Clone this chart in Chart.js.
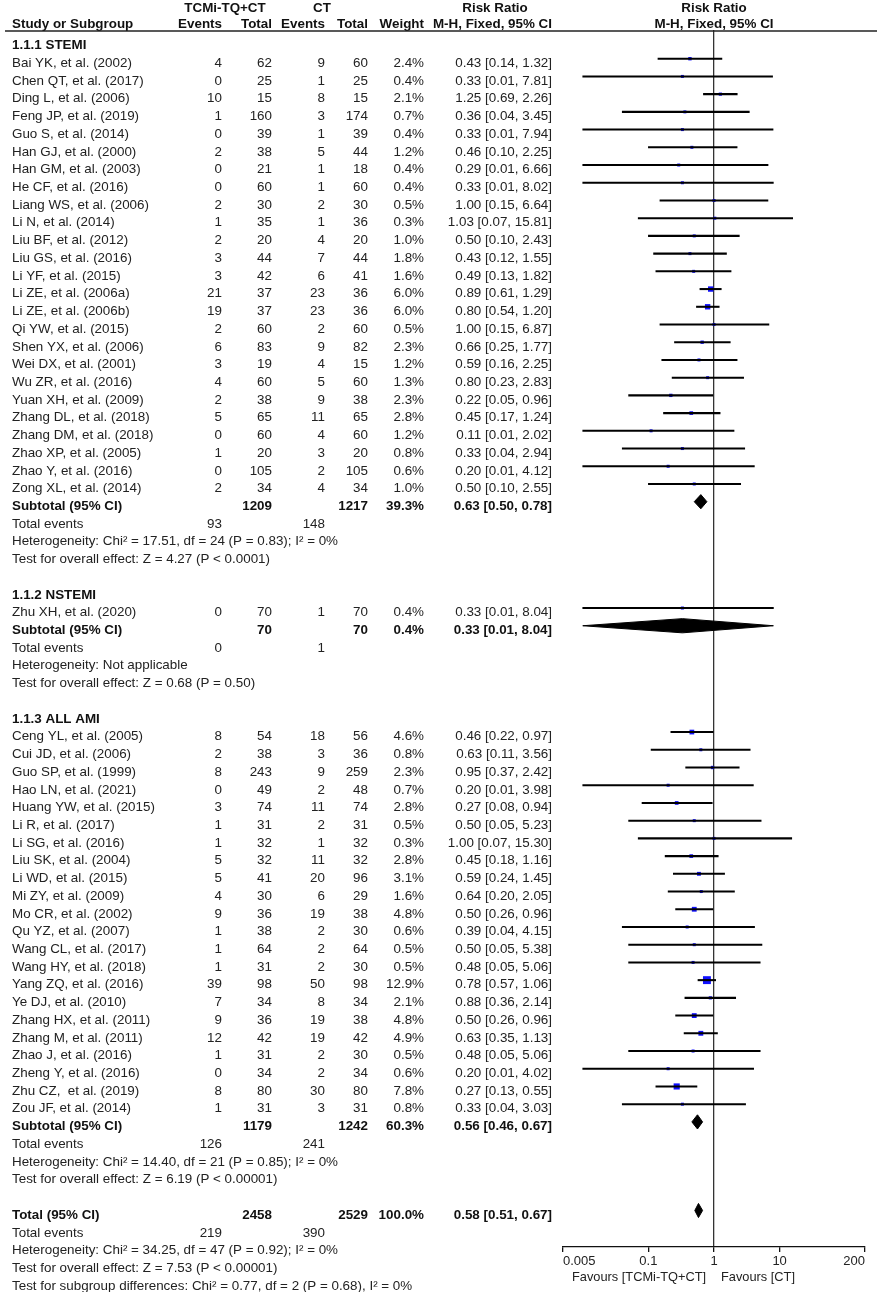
<!DOCTYPE html>
<html>
<head>
<meta charset="utf-8">
<script src="https://cdn.jsdelivr.net/npm/chart.js@4.4.1/dist/chart.umd.min.js"></script>
<style>
  html, body { margin: 0; padding: 0; background: #fff; }
  #forest { display: block; }
</style>
</head>
<body>
<canvas id="forest" width="879" height="1292"></canvas>
<script>
// Study data

const groupTitles = ['1.1.1 STEMI', '1.1.2 NSTEMI', '1.1.3 ALL AMI'];

const stemiStudies = [
    'Bai YK, et al. (2002)', 'Chen QT, et al. (2017)', 'Ding L, et al. (2006)', 'Feng JP, et al. (2019)',
    'Guo S, et al. (2014)', 'Han GJ, et al. (2000)', 'Han GM, et al. (2003)', 'He CF, et al. (2016)',
    'Liang WS, et al. (2006)', 'Li N, et al. (2014)', 'Liu BF, et al. (2012)', 'Liu GS, et al. (2016)',
    'Li YF, et al. (2015)', 'Li ZE, et al. (2006a)', 'Li ZE, et al. (2006b)', 'Qi YW, et al. (2015)',
    'Shen YX, et al. (2006)', 'Wei DX, et al. (2001)', 'Wu ZR, et al. (2016)', 'Yuan XH, et al. (2009)',
    'Zhang DL, et al. (2018)', 'Zhang DM, et al. (2018)', 'Zhao XP, et al. (2005)', 'Zhao Y, et al. (2016)',
    'Zong XL, et al. (2014)'
];
const stemiEvents1 = [4, 0, 10, 1, 0, 2, 0, 0, 2, 1, 2, 3, 3, 21, 19, 2, 6, 3, 4, 2, 5, 0, 1, 0, 2];
const stemiTotal1  = [62, 25, 15, 160, 39, 38, 21, 60, 30, 35, 20, 44, 42, 37, 37, 60, 83, 19, 60, 38, 65, 60, 20, 105, 34];
const stemiEvents2 = [9, 1, 8, 3, 1, 5, 1, 1, 2, 1, 4, 7, 6, 23, 23, 2, 9, 4, 5, 9, 11, 4, 3, 2, 4];
const stemiTotal2  = [60, 25, 15, 174, 39, 44, 18, 60, 30, 36, 20, 44, 41, 36, 36, 60, 82, 15, 60, 38, 65, 60, 20, 105, 34];
const stemiWeight  = [2.4, 0.4, 2.1, 0.7, 0.4, 1.2, 0.4, 0.4, 0.5, 0.3, 1.0, 1.8, 1.6, 6.0, 6.0, 0.5, 2.3, 1.2, 1.3, 2.3, 2.8, 1.2, 0.8, 0.6, 1.0];
const stemiRR      = [0.43, 0.33, 1.25, 0.36, 0.33, 0.46, 0.29, 0.33, 1.00, 1.03, 0.50, 0.43, 0.49, 0.89, 0.80, 1.00, 0.66, 0.59, 0.80, 0.22, 0.45, 0.11, 0.33, 0.20, 0.50];
const stemiLow     = [0.14, 0.01, 0.69, 0.04, 0.01, 0.10, 0.01, 0.01, 0.15, 0.07, 0.10, 0.12, 0.13, 0.61, 0.54, 0.15, 0.25, 0.16, 0.23, 0.05, 0.17, 0.01, 0.04, 0.01, 0.10];
const stemiHigh    = [1.32, 7.81, 2.26, 3.45, 7.94, 2.25, 6.66, 8.02, 6.64, 15.81, 2.43, 1.55, 1.82, 1.29, 1.20, 6.87, 1.77, 2.25, 2.83, 0.96, 1.24, 2.02, 2.94, 4.12, 2.55];

const nstemiStudies = ['Zhu XH, et al. (2020)'];
const nstemiEvents1 = [0];
const nstemiTotal1  = [70];
const nstemiEvents2 = [1];
const nstemiTotal2  = [70];
const nstemiWeight  = [0.4];
const nstemiRR      = [0.33];
const nstemiLow     = [0.01];
const nstemiHigh    = [8.04];

const amiStudies = [
    'Ceng YL, et al. (2005)', 'Cui JD, et al. (2006)', 'Guo SP, et al. (1999)', 'Hao LN, et al. (2021)',
    'Huang YW, et al. (2015)', 'Li R, et al. (2017)', 'Li SG, et al. (2016)', 'Liu SK, et al. (2004)',
    'Li WD, et al. (2015)', 'Mi ZY, et al. (2009)', 'Mo CR, et al. (2002)', 'Qu YZ, et al. (2007)',
    'Wang CL, et al. (2017)', 'Wang HY, et al. (2018)', 'Yang ZQ, et al. (2016)', 'Ye DJ, et al. (2010)',
    'Zhang HX, et al. (2011)', 'Zhang M, et al. (2011)', 'Zhao J, et al. (2016)', 'Zheng Y, et al. (2016)',
    'Zhu CZ,  et al. (2019)', 'Zou JF, et al. (2014)'
];
const amiEvents1 = [8, 2, 8, 0, 3, 1, 1, 5, 5, 4, 9, 1, 1, 1, 39, 7, 9, 12, 1, 0, 8, 1];
const amiTotal1  = [54, 38, 243, 49, 74, 31, 32, 32, 41, 30, 36, 38, 64, 31, 98, 34, 36, 42, 31, 34, 80, 31];
const amiEvents2 = [18, 3, 9, 2, 11, 2, 1, 11, 20, 6, 19, 2, 2, 2, 50, 8, 19, 19, 2, 2, 30, 3];
const amiTotal2  = [56, 36, 259, 48, 74, 31, 32, 32, 96, 29, 38, 30, 64, 30, 98, 34, 38, 42, 30, 34, 80, 31];
const amiWeight  = [4.6, 0.8, 2.3, 0.7, 2.8, 0.5, 0.3, 2.8, 3.1, 1.6, 4.8, 0.6, 0.5, 0.5, 12.9, 2.1, 4.8, 4.9, 0.5, 0.6, 7.8, 0.8];
const amiRR      = [0.46, 0.63, 0.95, 0.20, 0.27, 0.50, 1.00, 0.45, 0.59, 0.64, 0.50, 0.39, 0.50, 0.48, 0.78, 0.88, 0.50, 0.63, 0.48, 0.20, 0.27, 0.33];
const amiLow     = [0.22, 0.11, 0.37, 0.01, 0.08, 0.05, 0.07, 0.18, 0.24, 0.20, 0.26, 0.04, 0.05, 0.05, 0.57, 0.36, 0.26, 0.35, 0.05, 0.01, 0.13, 0.04];
const amiHigh    = [0.97, 3.56, 2.42, 3.98, 0.94, 5.23, 15.30, 1.16, 1.45, 2.05, 0.96, 4.15, 5.38, 5.06, 1.06, 2.14, 0.96, 1.13, 5.06, 4.02, 0.55, 3.03];

// Subtotals per group, then overall
const subTotal1  = [1209, 70, 1179];
const subTotal2  = [1217, 70, 1242];
const subEvents1 = [93, 0, 126];
const subEvents2 = [148, 1, 241];
const subWeight  = [39.3, 0.4, 60.3];
const subRR      = [0.63, 0.33, 0.56];
const subLow     = [0.50, 0.01, 0.46];
const subHigh    = [0.78, 8.04, 0.67];
const subHeterogeneity = [
    'Heterogeneity: Chi\u00b2 = 17.51, df = 24 (P = 0.83); I\u00b2 = 0%',
    'Heterogeneity: Not applicable',
    'Heterogeneity: Chi\u00b2 = 14.40, df = 21 (P = 0.85); I\u00b2 = 0%'
];
const subEffect = [
    'Test for overall effect: Z = 4.27 (P < 0.0001)',
    'Test for overall effect: Z = 0.68 (P = 0.50)',
    'Test for overall effect: Z = 6.19 (P < 0.00001)'
];

const totalTotal1 = 2458;
const totalTotal2 = 2529;
const totalEvents1 = 219;
const totalEvents2 = 390;
const totalWeight = 100.0;
const totalRR = 0.58;
const totalLow = 0.51;
const totalHigh = 0.67;
const totalNotes = [
    'Heterogeneity: Chi\u00b2 = 34.25, df = 47 (P = 0.92); I\u00b2 = 0%',
    'Test for overall effect: Z = 7.53 (P < 0.00001)',
    'Test for subgroup differences: Chi\u00b2 = 0.77, df = 2 (P = 0.68), I\u00b2 = 0%'
];

const axisTicks = [0.005, 0.1, 1, 10, 200];

// Build rows (one row = one line of the table)

const groupData = [
    [stemiStudies, stemiEvents1, stemiTotal1, stemiEvents2, stemiTotal2, stemiWeight, stemiRR, stemiLow, stemiHigh],
    [nstemiStudies, nstemiEvents1, nstemiTotal1, nstemiEvents2, nstemiTotal2, nstemiWeight, nstemiRR, nstemiLow, nstemiHigh],
    [amiStudies, amiEvents1, amiTotal1, amiEvents2, amiTotal2, amiWeight, amiRR, amiLow, amiHigh],
];

const rows = [];
let r = 0;
groupData.forEach((g, i) => {
    const [names, e1, t1, e2, t2, w, rr, lo, hi] = g;
    rows.push({ r: r++, kind: 'title', text: groupTitles[i] });
    names.forEach((n, j) => {
        rows.push({ r: r++, kind: 'study', name: n, e1: e1[j], t1: t1[j], e2: e2[j], t2: t2[j], w: w[j], rr: rr[j], lo: lo[j], hi: hi[j] });
    });
    rows.push({ r: r++, kind: 'sub', name: 'Subtotal (95% CI)', t1: subTotal1[i], t2: subTotal2[i], w: subWeight[i], rr: subRR[i], lo: subLow[i], hi: subHigh[i] });
    rows.push({ r: r++, kind: 'events', e1: subEvents1[i], e2: subEvents2[i] });
    rows.push({ r: r++, kind: 'note', text: subHeterogeneity[i] });
    rows.push({ r: r++, kind: 'note', text: subEffect[i] });
    r++;
});
rows.push({ r: r++, kind: 'sub', name: 'Total (95% CI)', t1: totalTotal1, t2: totalTotal2, w: totalWeight, rr: totalRR, lo: totalLow, hi: totalHigh });
rows.push({ r: r++, kind: 'events', e1: totalEvents1, e2: totalEvents2 });
totalNotes.forEach(t => rows.push({ r: r++, kind: 'note', text: t }));

const studyRows = rows.filter(d => d.kind === 'study');
const diamondRows = rows.filter(d => d.kind === 'sub');

const fmtCI = d => `${d.rr.toFixed(2)} [${d.lo.toFixed(2)}, ${d.hi.toFixed(2)}]`;

// Datasets

const DIAMOND_H = 0.4;
const diamondSets = diamondRows.map(d => ({
    type: 'line',
    data: [
        { x: d.lo, y: d.r },
        { x: d.rr, y: d.r - DIAMOND_H },
        { x: d.hi, y: d.r },
        { x: d.rr, y: d.r + DIAMOND_H },
        { x: d.lo, y: d.r },
    ],
    borderColor: '#000',
    backgroundColor: '#000',
    borderWidth: 1,
    pointRadius: 0,
    tension: 0,
    fill: 'shape',
}));

const FONT = '"Liberation Sans", Arial, sans-serif';
Chart.defaults.font.family = FONT;

const COL = { name: 12, e1: 222, t1: 272, e2: 325, t2: 368, w: 424, ci: 552 };
const TEXT_SHIFT = 8.3;
const TEXT_SIZE = 13.4;

const tableText = {
    id: 'tableText',
    afterDraw(chart) {
        const ctx = chart.ctx;
        const ys = chart.scales.y;
        const put = (txt, x, y, align, bold, size) => {
            ctx.font = (bold ? 'bold ' : '') + (size || TEXT_SIZE) + 'px ' + FONT;
            ctx.fillStyle = bold ? '#111' : '#222';
            ctx.textAlign = align;
            ctx.fillText(txt, x, y);
        };
        ctx.save();
        ctx.textBaseline = 'alphabetic';

        // header
        put('TCMi-TQ+CT', 225, 12, 'center', true);
        put('CT', 322, 12, 'center', true);
        put('Risk Ratio', 495, 12, 'center', true);
        put('Risk Ratio', 714, 12, 'center', true);
        put('Study or Subgroup', COL.name, 28, 'left', true);
        put('Events', COL.e1, 28, 'right', true);
        put('Total', COL.t1, 28, 'right', true);
        put('Events', COL.e2, 28, 'right', true);
        put('Total', COL.t2, 28, 'right', true);
        put('Weight', COL.w, 28, 'right', true);
        put('M-H, Fixed, 95% CI', COL.ci, 28, 'right', true);
        put('M-H, Fixed, 95% CI', 714, 28, 'center', true);
        ctx.strokeStyle = '#222';
        ctx.lineWidth = 1.3;
        ctx.beginPath();
        ctx.moveTo(5, 31);
        ctx.lineTo(877, 31);
        ctx.stroke();

        rows.forEach(d => {
            const y = ys.getPixelForValue(d.r) + TEXT_SHIFT;
            if (d.kind === 'title') {
                put(d.text, COL.name, y, 'left', true);
            } else if (d.kind === 'study') {
                put(d.name, COL.name, y, 'left');
                put(String(d.e1), COL.e1, y, 'right');
                put(String(d.t1), COL.t1, y, 'right');
                put(String(d.e2), COL.e2, y, 'right');
                put(String(d.t2), COL.t2, y, 'right');
                put(d.w.toFixed(1) + '%', COL.w, y, 'right');
                put(fmtCI(d), COL.ci, y, 'right');
            } else if (d.kind === 'sub') {
                put(d.name, COL.name, y, 'left', true);
                put(String(d.t1), COL.t1, y, 'right', true);
                put(String(d.t2), COL.t2, y, 'right', true);
                put(d.w.toFixed(1) + '%', COL.w, y, 'right', true);
                put(fmtCI(d), COL.ci, y, 'right', true);
            } else if (d.kind === 'events') {
                put('Total events', COL.name, y, 'left');
                put(String(d.e1), COL.e1, y, 'right');
                put(String(d.e2), COL.e2, y, 'right');
            } else {
                put(d.text, COL.name, y, 'left');
            }
        });

        // favours labels under the axis
        const x1 = chart.scales.x.getPixelForValue(1);
        put('Favours [TCMi-TQ+CT]', x1 - 8, 1281, 'right', false, 12.8);
        put('Favours [CT]', x1 + 7, 1281, 'left', false, 12.8);
        ctx.restore();
    }
};

const forest = document.getElementById('forest');

const forestPlot = new Chart(forest, {
    type: 'scatter',
    data: {
        datasets: [
            {
                type: 'bar',
                indexAxis: 'y',
                data: studyRows.map(d => ({ y: d.r, x: [d.lo, d.hi] })),
                backgroundColor: '#000',
                borderWidth: 0,
                barThickness: 1.4,
            },
            {
                type: 'scatter',
                data: studyRows.map(d => ({ x: d.rr, y: d.r })),
                pointStyle: 'rect',
                backgroundColor: '#1010ff',
                borderWidth: 0,
                pointRadius: studyRows.map(d => Math.max(3, 2.2 * Math.sqrt(d.w)) / Math.SQRT2),
            },
            ...diamondSets,
        ]
    },
    plugins: [tableText],
    options: {
        responsive: false,
        animation: false,
        layout: { padding: { left: 563, right: 14, top: 30, bottom: 0 } },
        plugins: {
            legend: { display: false },
            tooltip: { enabled: false },
        },
        scales: {
            x: {
                type: 'logarithmic',
                min: 0.005,
                max: 200,
                offset: false,
                afterBuildTicks: scale => { scale.ticks = axisTicks.map(v => ({ value: v })); },
                afterFit: scale => { scale.height = 45; },
                ticks: {
                    autoSkip: false,
                    maxRotation: 0,
                    align: 'inner',
                    padding: 2,
                    color: '#222',
                    font: { size: 13 },
                    callback: v => String(v),
                },
                grid: {
                    color: c => (c.tick && c.tick.value === 1) ? '#333' : 'rgba(0,0,0,0)',
                    lineWidth: 1.3,
                    tickColor: '#111',
                    tickLength: 5,
                    tickWidth: 1.3,
                },
                border: { display: true, color: '#111', width: 1.3 },
            },
            y: {
                type: 'linear',
                display: false,
                reverse: true,
                offset: false,
                min: -0.62,
                max: 68.06,
            }
        }
    }
});
</script>
</body>
</html>
